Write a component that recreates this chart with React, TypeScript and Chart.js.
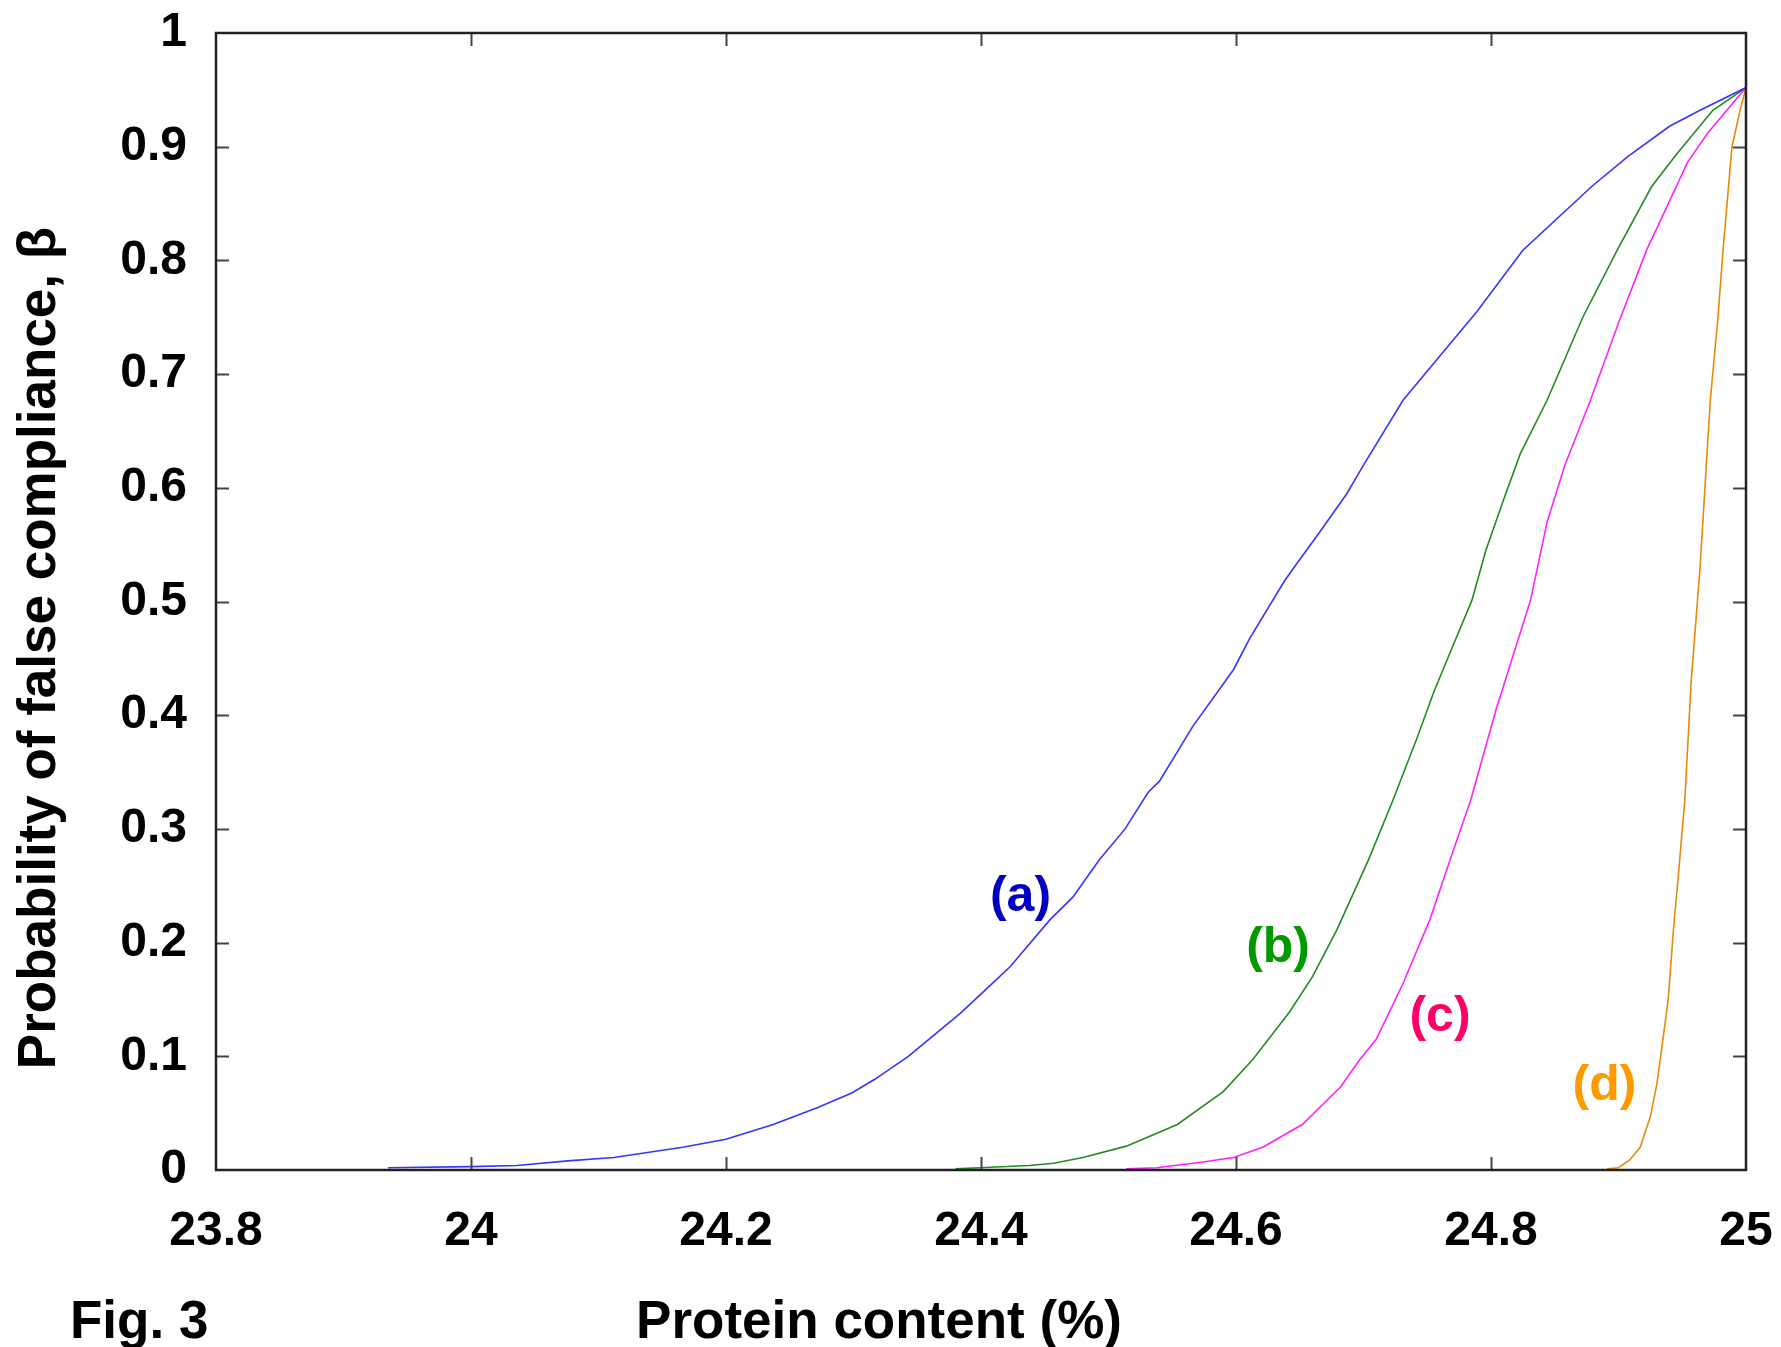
import React, { useEffect, useRef } from "react";
import { Chart, registerables } from "chart.js";

Chart.register(...registerables);

// ---- Data ----
const A_X = [23.935, 24.0, 24.036, 24.076, 24.112, 24.166, 24.2, 24.237, 24.272, 24.299, 24.317, 24.343, 24.37, 24.384, 24.406, 24.423, 24.454, 24.472, 24.493, 24.513, 24.531, 24.54, 24.566, 24.598, 24.611, 24.638, 24.65, 24.665, 24.687, 24.7, 24.731, 24.763, 24.789, 24.825, 24.879, 24.907, 24.94, 24.964, 25.0];
const A_Y = [0.002, 0.003, 0.004, 0.008, 0.011, 0.02, 0.027, 0.04, 0.055, 0.068, 0.08, 0.1, 0.125, 0.138, 0.161, 0.179, 0.22, 0.24, 0.273, 0.3, 0.332, 0.342, 0.39, 0.44, 0.468, 0.518, 0.537, 0.56, 0.595, 0.62, 0.677, 0.72, 0.755, 0.809, 0.865, 0.891, 0.918, 0.932, 0.952];

const B_X = [24.38, 24.399, 24.438, 24.457, 24.48, 24.514, 24.554, 24.59, 24.613, 24.642, 24.66, 24.679, 24.704, 24.723, 24.742, 24.755, 24.769, 24.785, 24.796, 24.81, 24.823, 24.844, 24.872, 24.899, 24.926, 24.946, 24.974, 25.0];
const B_Y = [0.001, 0.002, 0.004, 0.006, 0.011, 0.021, 0.04, 0.069, 0.097, 0.139, 0.17, 0.211, 0.273, 0.325, 0.38, 0.42, 0.458, 0.501, 0.545, 0.59, 0.63, 0.677, 0.75, 0.809, 0.865, 0.894, 0.932, 0.952];

const C_X = [24.514, 24.538, 24.574, 24.598, 24.621, 24.652, 24.682, 24.697, 24.71, 24.731, 24.752, 24.768, 24.784, 24.804, 24.831, 24.844, 24.858, 24.878, 24.9, 24.922, 24.935, 24.954, 24.97, 24.985, 25.0];
const C_Y = [0.001, 0.002, 0.007, 0.011, 0.02, 0.04, 0.073, 0.097, 0.115, 0.164, 0.22, 0.273, 0.325, 0.405, 0.501, 0.57, 0.62, 0.677, 0.745, 0.809, 0.84, 0.886, 0.912, 0.932, 0.952];

const D_X = [24.891, 24.9, 24.909, 24.917, 24.925, 24.93, 24.933, 24.939, 24.943, 24.947, 24.952, 24.957, 24.964, 24.968, 24.972, 24.978, 24.982, 24.989, 24.996, 25.0];
const D_Y = [0.001, 0.002, 0.009, 0.02, 0.047, 0.075, 0.099, 0.15, 0.21, 0.26, 0.325, 0.43, 0.53, 0.604, 0.677, 0.75, 0.809, 0.9, 0.935, 0.952];

const SERIES_NAMES = ["(a)", "(b)", "(c)", "(d)"];
const LABEL_X = [24.431, 24.633, 24.76, 24.889];
const LABEL_Y = [0.24, 0.195, 0.134, 0.074];

const X_MIN = 23.8;
const X_MAX = 25;
const X_STEP = 0.2;
const Y_MIN = 0;
const Y_MAX = 1;
const Y_STEP = 0.1;

const X_TITLE = "Protein content (%)";
const Y_TITLE = "Probability of false compliance, \u03b2";
const FIG_LABEL = "Fig. 3";

// ---- Styles ----
const LINE_COLORS = ["#3535ff", "#228b22", "#ff22ff", "#e8890c"];
const LABEL_COLORS = ["#0000c0", "#009900", "#ff0066", "#ff9900"];
const FONT_FAMILY = '"Liberation Sans", Arial, Helvetica, sans-serif';

const toPoints = (xs: number[], ys: number[]) => xs.map((x, i) => ({ x, y: ys[i] }));

const fmt = (v: number | string) => String(Number(Number(v).toFixed(1)));

const zeroPadding = (s: any) => {
  s.paddingTop = 0;
  s.paddingBottom = 0;
  s.paddingLeft = 0;
  s.paddingRight = 0;
};

const decorPlugin = {
  id: "decor",
  afterDraw(chart: any) {
    const { ctx, chartArea: a, scales } = chart;
    const xs = scales.x;
    const ys = scales.y;
    ctx.save();

    // inward ticks on all four sides
    ctx.strokeStyle = "#444";
    ctx.lineWidth = 2;
    const TL = 13;
    xs.ticks.forEach((t: any) => {
      if (t.value <= X_MIN + 1e-9 || t.value >= X_MAX - 1e-9) return;
      const px = Math.round(xs.getPixelForValue(t.value)) + 0.5;
      ctx.beginPath();
      ctx.moveTo(px, a.bottom);
      ctx.lineTo(px, a.bottom - TL);
      ctx.moveTo(px, a.top);
      ctx.lineTo(px, a.top + TL);
      ctx.stroke();
    });
    ys.ticks.forEach((t: any) => {
      if (t.value <= Y_MIN + 1e-9 || t.value >= Y_MAX - 1e-9) return;
      const py = Math.round(ys.getPixelForValue(t.value)) + 0.5;
      ctx.beginPath();
      ctx.moveTo(a.left, py);
      ctx.lineTo(a.left + TL, py);
      ctx.moveTo(a.right, py);
      ctx.lineTo(a.right - TL, py);
      ctx.stroke();
    });

    // frame
    ctx.strokeStyle = "#222";
    ctx.lineWidth = 2.5;
    ctx.strokeRect(a.left, a.top, a.right - a.left, a.bottom - a.top);

    // series labels
    ctx.font = `bold 50px ${FONT_FAMILY}`;
    ctx.textAlign = "center";
    ctx.textBaseline = "middle";
    SERIES_NAMES.forEach((name, i) => {
      ctx.fillStyle = LABEL_COLORS[i];
      ctx.fillText(name, xs.getPixelForValue(LABEL_X[i]), ys.getPixelForValue(LABEL_Y[i]));
    });

    // axis titles
    ctx.fillStyle = "#000";
    ctx.font = `bold 53px ${FONT_FAMILY}`;
    ctx.textBaseline = "alphabetic";
    ctx.textAlign = "center";
    ctx.fillText(X_TITLE, 879, 1338);
    ctx.textAlign = "left";
    ctx.fillText(FIG_LABEL, 70, 1338);

    ctx.save();
    ctx.translate(55, 648);
    ctx.rotate(-Math.PI / 2);
    ctx.textAlign = "center";
    ctx.fillText(Y_TITLE, 0, 0);
    ctx.restore();

    ctx.restore();
  },
};

export default function App() {
  const canvasRef = useRef<HTMLCanvasElement | null>(null);

  useEffect(() => {
    const canvas = canvasRef.current;
    if (!canvas) return;
    const tickFont = { family: FONT_FAMILY, size: 48, weight: "bold" as const };
    const seriesX = [A_X, B_X, C_X, D_X];
    const seriesY = [A_Y, B_Y, C_Y, D_Y];
    const chart = new Chart(canvas, {
      type: "line",
      data: {
        datasets: SERIES_NAMES.map((name, i) => ({
          label: name,
          data: toPoints(seriesX[i], seriesY[i]),
          borderColor: LINE_COLORS[i],
          backgroundColor: LINE_COLORS[i],
          borderWidth: 1.6,
          pointRadius: 0,
          tension: 0,
          fill: false,
        })),
      },
      options: {
        animation: false,
        responsive: false,
        maintainAspectRatio: false,
        devicePixelRatio: 1,
        layout: { padding: { left: 0, top: 33, right: 35, bottom: 0 } },
        plugins: {
          legend: { display: false },
          tooltip: { enabled: false },
          title: { display: false },
        },
        scales: {
          x: {
            type: "linear",
            min: X_MIN,
            max: X_MAX,
            afterFit: (s: any) => {
              s.height = 177;
              zeroPadding(s);
            },
            grid: { display: false, drawTicks: false },
            border: { display: false },
            ticks: {
              stepSize: X_STEP,
              padding: 33,
              color: "#000",
              font: tickFont,
              maxRotation: 0,
              autoSkip: false,
              callback: (v: any) => fmt(v),
            },
          },
          y: {
            type: "linear",
            min: Y_MIN,
            max: Y_MAX,
            afterFit: (s: any) => {
              s.width = 216;
              zeroPadding(s);
            },
            grid: { display: false, drawTicks: false },
            border: { display: false },
            ticks: {
              stepSize: Y_STEP,
              padding: 29,
              color: "#000",
              font: tickFont,
              autoSkip: false,
              callback: (v: any) => fmt(v),
            },
          },
        },
      },
      plugins: [decorPlugin],
    });
    return () => chart.destroy();
  }, []);

  return (
    <div style={{ position: "absolute", left: 0, top: 0, width: 1781, height: 1347, background: "#fff" }}>
      <canvas ref={canvasRef} width={1781} height={1347} style={{ display: "block", width: 1781, height: 1347 }} />
    </div>
  );
}
